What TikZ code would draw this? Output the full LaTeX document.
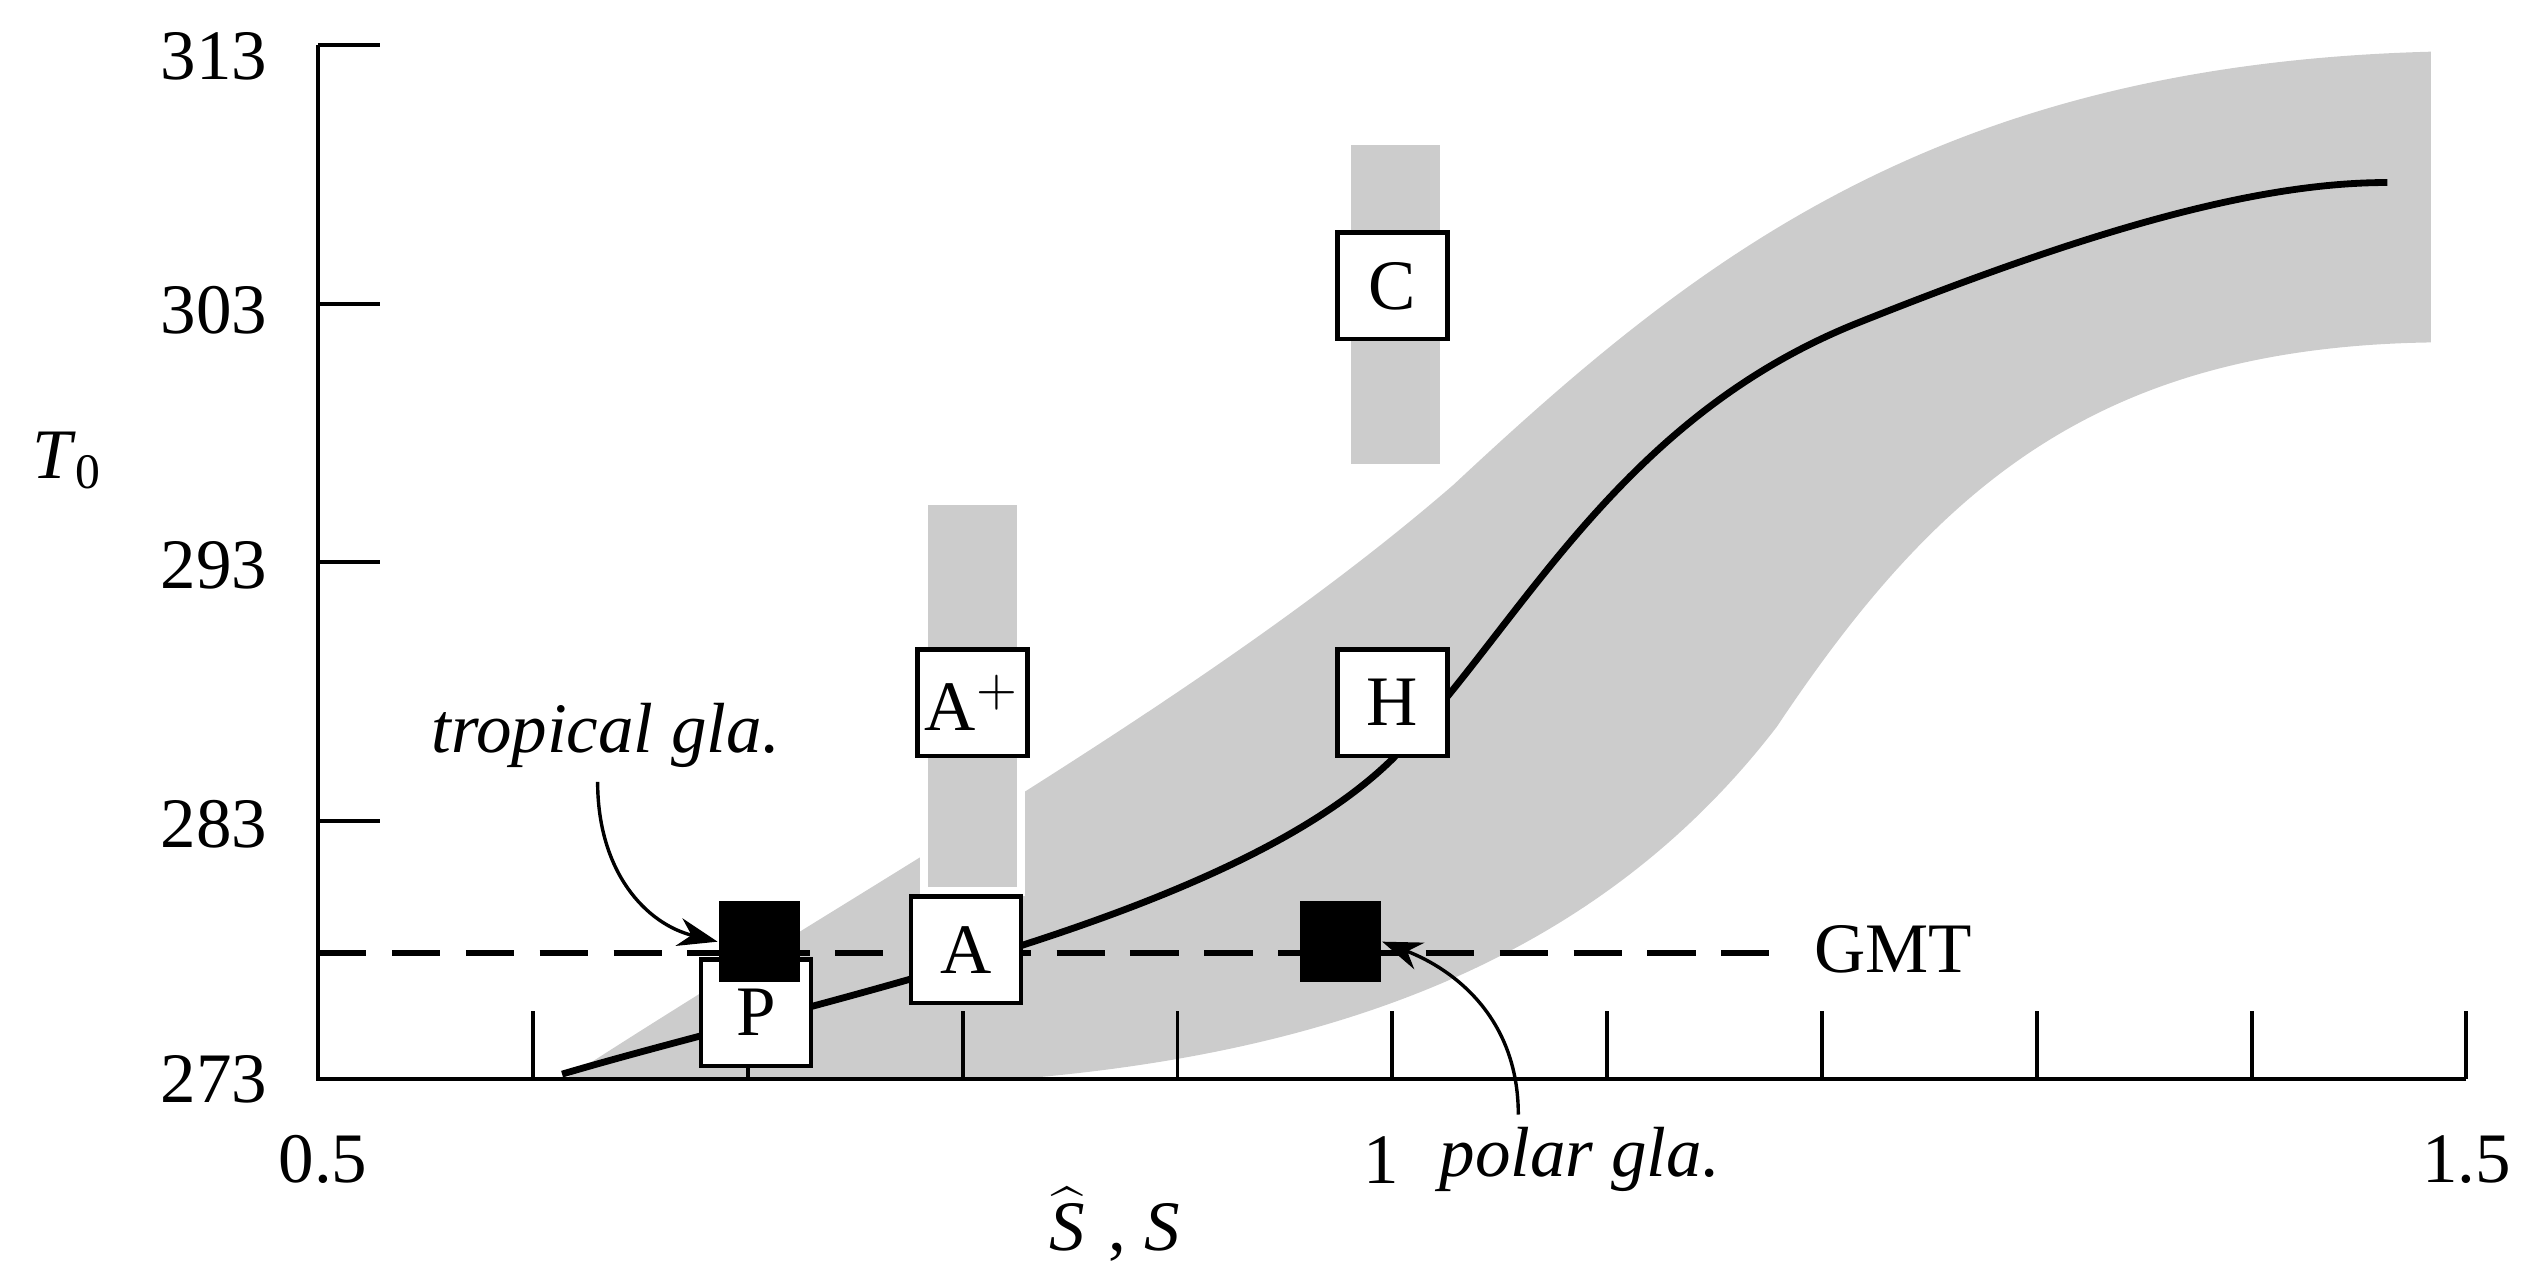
\documentclass[tikz,border=0pt]{standalone}
\usepackage{fontspec}
\setmainfont{Liberation Serif}
\usetikzlibrary{arrows.meta}
\begin{document}
\begin{tikzpicture}[x=0.01cm,y=-0.01cm,
  lab/.style={font=\fontsize{12.5}{15}\selectfont},
  box/.style={draw,fill=white,line width=0.8pt,minimum width=0.68cm,minimum height=0.66cm,inner sep=1pt,font=\fontsize{12.5}{15}\selectfont},
  sq/.style={fill=black,minimum size=0.5cm,inner sep=0pt},
  ann/.style={-{Stealth[length=7pt,width=5pt]},line width=0.6pt}]
\useasboundingbox (0,0) rectangle (1562,785);
% band
\fill[black!20] (350,668) .. controls (540,545) and (750,430) .. (900,300)
  .. controls (1050,160) and (1200,40) .. (1505,32) -- (1505,212)
  .. controls (1300,215) and (1200,300) .. (1100,450)
  .. controls (1000,580) and (850,650) .. (630,668) -- cycle;
% bars
\fill[black!20,draw=white,line width=1.5pt] (572,310) rectangle (632,552);
\fill[black!20,draw=white,line width=1.5pt] (834,87) rectangle (894,290);
% axes
\draw[line width=0.7pt] (197,28) -- (197,668) -- (1527,668);
\foreach \y in {28,188,348,508} \draw[line width=0.7pt] (197,\y) -- (235,\y);
\foreach \x in {330,463,596,729,862,995,1128,1261,1394,1527} \draw[line width=0.7pt] (\x,668) -- (\x,626);
% tick labels
\node[lab,anchor=east] (y313) at (178,35) {313};
\node[lab,anchor=east] (y303) at (178,192) {303};
\node[lab,anchor=east] (y293) at (178,350) {293};
\node[lab,anchor=east] (y283) at (178,510) {283};
\node[lab,anchor=east] (y273) at (178,668) {273};
\node[lab] (T0) at (42,285) {\textit{T}\textsubscript{0}};
\node[lab] (x05) at (200,718) {0.5};
\node[lab] (x1) at (855,718) {1};
\node[lab] (x15) at (1527,718) {1.5};
\node[lab] (xl) at (690,758) {$\widehat{\textit{S}}$\,\,, \textit{S}};
% dashed GMT
\coordinate (g0) at (197,590);
\coordinate (g1) at (1100,590);
\draw[line width=1.2pt,dash pattern=on 8.5pt off 4.5pt] (g0) -- (g1);
\node[lab] (gmt) at (1172,588) {GMT};
% curve
\draw[line width=1.2pt] (348,665) .. controls (500,620) and (760,570) .. (862,470)
  .. controls (940,390) and (1000,260) .. (1150,200) .. controls (1300,140) and (1400,113) .. (1478,113);
% boxes
\node[box] (C) at (862,177) {C};
\node[box] (H) at (862,435) {H};
\node[box] (Ap) at (602,435) {A$^+$};
\node[box] (A) at (598,588) {A};
\node[box] (P) at (468,627) {P};
\node[sq] (s1) at (470,583) {};
\node[sq] (s2) at (830,583) {};
% annotations
\node[lab,font=\fontsize{12.5}{15}\selectfont\itshape] (trop) at (375,455) {tropical gla.};
\node[lab,font=\fontsize{12.5}{15}\selectfont\itshape] (pol) at (978,718) {polar gla.};
\draw[ann] (370,484) .. controls (370,540) and (400,572) .. (s1.west);
\draw[ann] (940,690) .. controls (940,630) and (900,600) .. (s2.east);
\end{tikzpicture}
\end{document}
